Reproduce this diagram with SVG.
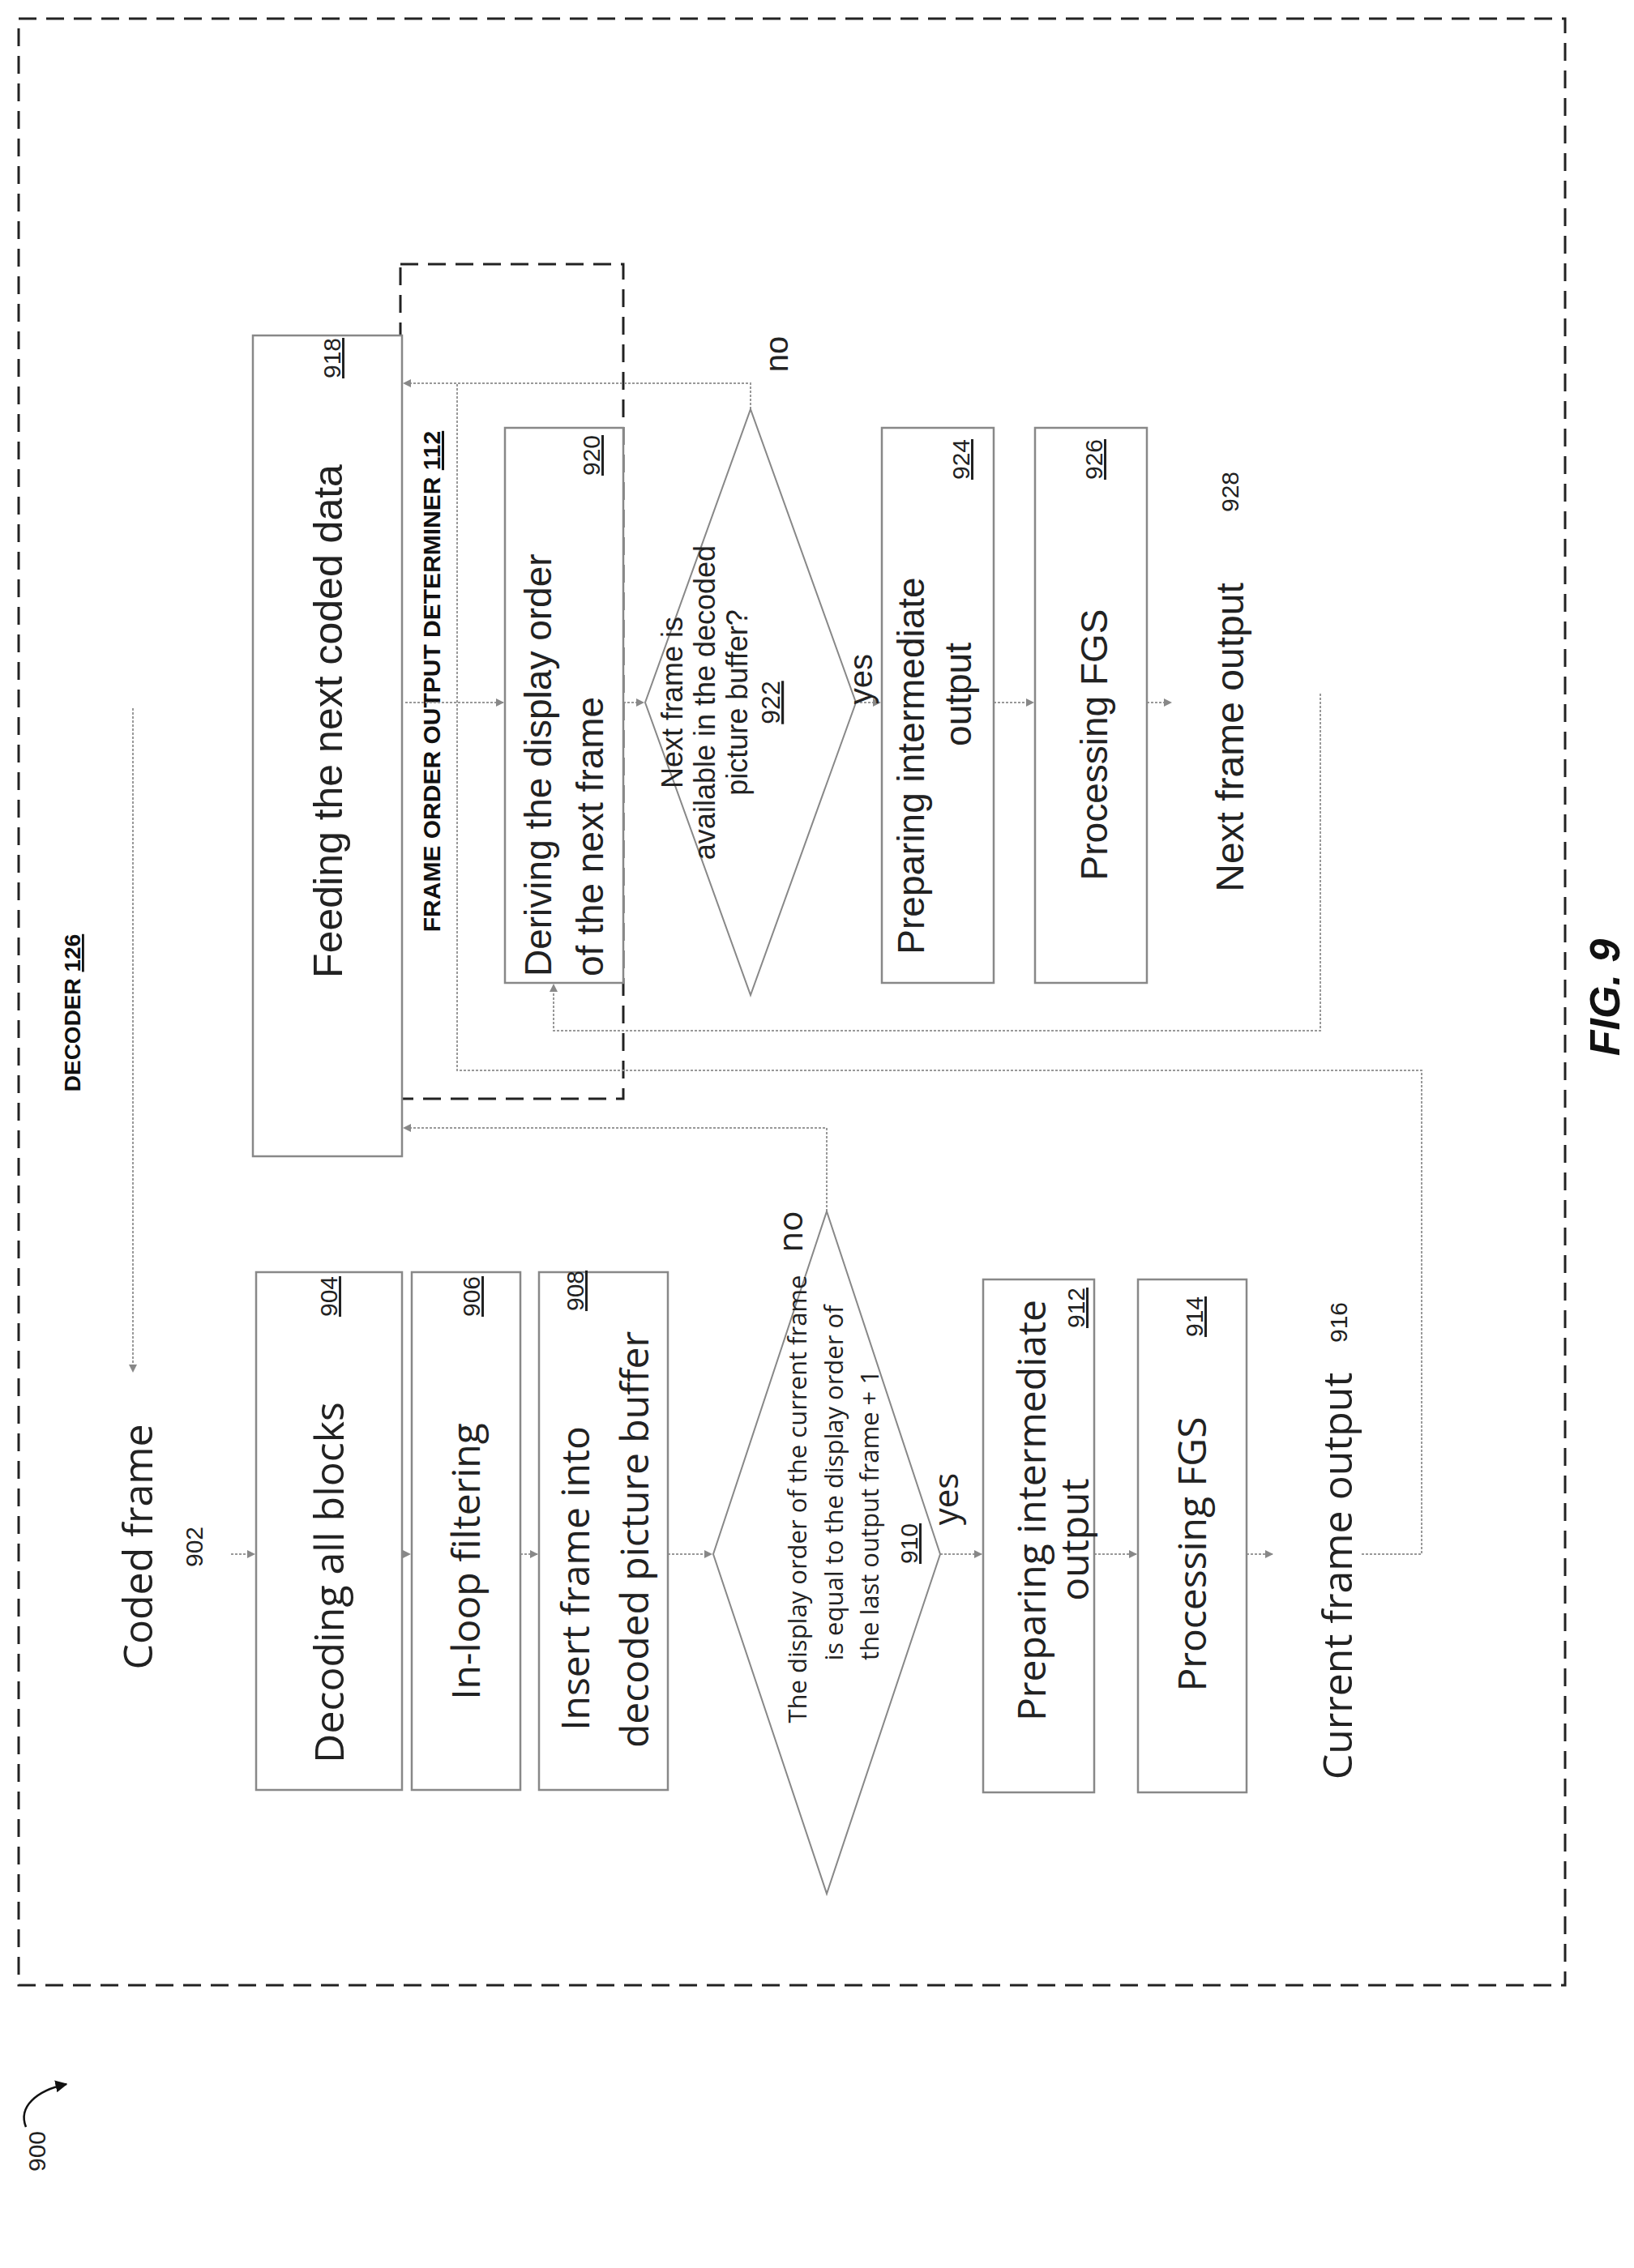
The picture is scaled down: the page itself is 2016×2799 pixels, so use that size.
<svg xmlns="http://www.w3.org/2000/svg" width="2016" height="2799" viewBox="0 0 2016 2799">
<style>
.bx{fill:#fff;stroke:#888;stroke-width:2.5}
.dm{fill:none;stroke:#888;stroke-width:2}
.dash{fill:none;stroke:#222;stroke-width:3;stroke-dasharray:22 12}
.cn{fill:none;stroke:#999;stroke-width:2;stroke-dasharray:3 2}
.t{font-family:"Open Sans","Liberation Sans",sans-serif;fill:#222}
.a{font-family:"Liberation Sans",Arial,sans-serif;fill:#222}
.b{font-family:"Liberation Sans",Arial,sans-serif;font-weight:bold;fill:#111}
</style>
<defs>
<marker id="ar" viewBox="0 0 10 10" refX="9" refY="5" markerWidth="5" markerHeight="5" orient="auto"><path d="M0,0 L10,5 L0,10 z" fill="#888"/></marker>
<marker id="ak" viewBox="0 0 10 10" refX="9" refY="5" markerWidth="6" markerHeight="6" orient="auto"><path d="M0,0 L10,5 L0,10 z" fill="#111"/></marker>
</defs>
<rect class="dash" x="23" y="23" width="1908" height="2427"/>
<g id="decoder-label"><text class="b" font-size="28" text-anchor="middle" transform="translate(99,1250) rotate(-90)">DECODER <tspan text-decoration="underline">126</tspan></text></g>
<g id="fig"><text class="b" font-size="52" font-style="italic" text-anchor="middle" transform="translate(1998,1231) rotate(-90)">FIG. 9</text></g>
<g id="n900"><text class="a" font-size="30" text-anchor="middle" transform="translate(56,2655) rotate(-90)">900</text>
<path d="M32,2625 C22,2600 45,2580 82,2572" fill="none" stroke="#111" stroke-width="2.5" marker-end="url(#ak)"/></g>
<g id="determiner"><rect class="dash" x="494" y="326" width="275" height="1030"/>
<text class="b" font-size="30" text-anchor="middle" transform="translate(543,841) rotate(-90)">FRAME ORDER OUTPUT DETERMINER <tspan text-decoration="underline">112</tspan></text></g>

<g id="connectors">
<path class="cn" d="M164,874 V1693" marker-end="url(#ar)"/>
<path class="cn" d="M285,1918 H314" marker-end="url(#ar)"/>
<path class="cn" d="M496,1918 H506" marker-end="url(#ar)"/>
<path class="cn" d="M642,1918 H663" marker-end="url(#ar)"/>
<path class="cn" d="M824,1918 H878" marker-end="url(#ar)"/>
<path class="cn" d="M1160,1918 H1211" marker-end="url(#ar)"/>
<path class="cn" d="M1350,1918 H1402" marker-end="url(#ar)"/>
<path class="cn" d="M1538,1918 H1570" marker-end="url(#ar)"/>
<path class="cn" d="M1020,1495 V1392 H498" marker-end="url(#ar)"/>
<path class="cn" d="M1680,1918 H1754 V1321 H564 V473"/>
<path class="cn" d="M926,505 V473 H498" marker-end="url(#ar)"/>
<path class="cn" d="M500,867 H621" marker-end="url(#ar)"/>
<path class="cn" d="M769,867 H794" marker-end="url(#ar)"/>
<path class="cn" d="M1056,867 H1086" marker-end="url(#ar)"/>
<path class="cn" d="M1226,867 H1275" marker-end="url(#ar)"/>
<path class="cn" d="M1415,867 H1445" marker-end="url(#ar)"/>
<path class="cn" d="M1629,856 V1272 H683 V1215" marker-end="url(#ar)"/>
</g>

<g id="n902"><text class="t" font-size="50" text-anchor="middle" transform="translate(188,1909) rotate(-90)">Coded frame</text>
<text class="a" font-size="30" text-anchor="middle" transform="translate(250,1909) rotate(-90)">902</text></g>
<g id="n904"><rect class="bx" x="316" y="1570" width="180" height="639"/>
<text class="t" font-size="50" text-anchor="middle" transform="translate(424,1953) rotate(-90)">Decoding all blocks</text>
<text class="a" font-size="30" text-anchor="middle" text-decoration="underline" transform="translate(416,1600) rotate(-90)">904</text></g>
<g id="n906"><rect class="bx" x="508" y="1570" width="134" height="639"/>
<text class="t" font-size="48" text-anchor="middle" transform="translate(592,1927) rotate(-90)">In-loop filtering</text>
<text class="a" font-size="30" text-anchor="middle" text-decoration="underline" transform="translate(592,1600) rotate(-90)">906</text></g>
<g id="n908"><rect class="bx" x="665" y="1570" width="159" height="639"/>
<text class="t" font-size="48" text-anchor="middle" transform="translate(727,1948) rotate(-90)">Insert frame into</text>
<text class="t" font-size="48" text-anchor="middle" transform="translate(800,1900) rotate(-90)">decoded picture buffer</text>
<text class="a" font-size="30" text-anchor="middle" text-decoration="underline" transform="translate(720,1593) rotate(-90)">908</text></g>
<g id="n910"><polygon class="dm" points="1020,1495 1160,1918 1020,2337 880,1918"/>
<text class="t" font-size="31" text-anchor="middle" transform="translate(995,1850) rotate(-90)">The display order of the current frame</text>
<text class="t" font-size="31" text-anchor="middle" transform="translate(1040,1830) rotate(-90)">is equal to the display order of</text>
<text class="t" font-size="31" text-anchor="middle" transform="translate(1084,1870) rotate(-90)">the last output frame + 1</text>
<text class="a" font-size="30" text-anchor="middle" text-decoration="underline" transform="translate(1132,1905) rotate(-90)">910</text>
<text class="t" font-size="42" text-anchor="middle" transform="translate(1182,1850) rotate(-90)">yes</text>
<text class="t" font-size="42" text-anchor="middle" transform="translate(990,1520) rotate(-90)">no</text></g>
<g id="n912"><rect class="bx" x="1213" y="1579" width="137" height="633"/>
<text class="t" font-size="48" text-anchor="middle" transform="translate(1290,1864) rotate(-90)">Preparing intermediate</text>
<text class="t" font-size="48" text-anchor="middle" transform="translate(1343,1900) rotate(-90)">output</text>
<text class="a" font-size="30" text-anchor="middle" text-decoration="underline" transform="translate(1338,1614) rotate(-90)">912</text></g>
<g id="n914"><rect class="bx" x="1404" y="1579" width="134" height="633"/>
<text class="t" font-size="48" text-anchor="middle" transform="translate(1488,1918) rotate(-90)">Processing FGS</text>
<text class="a" font-size="30" text-anchor="middle" text-decoration="underline" transform="translate(1484,1625) rotate(-90)">914</text></g>
<g id="n916"><text class="t" font-size="50" text-anchor="middle" transform="translate(1668,1945) rotate(-90)">Current frame output</text>
<text class="a" font-size="30" text-anchor="middle" transform="translate(1662,1632) rotate(-90)">916</text></g>

<g id="n918"><rect class="bx" x="312" y="414" width="184" height="1013"/>
<text class="a" font-size="50" text-anchor="middle" transform="translate(422,890) rotate(-90)">Feeding the next coded data</text>
<text class="a" font-size="30" text-anchor="middle" text-decoration="underline" transform="translate(420,442) rotate(-90)">918</text></g>
<g id="n920"><rect class="bx" x="623" y="528" width="146" height="685"/>
<text class="a" font-size="46" transform="translate(680,1205) rotate(-90)">Deriving the display order</text>
<text class="a" font-size="46" transform="translate(744,1205) rotate(-90)">of the next frame</text>
<text class="a" font-size="30" text-anchor="middle" text-decoration="underline" transform="translate(740,562) rotate(-90)">920</text></g>
<g id="n922"><polygon class="dm" points="926,505 1056,867 926,1228 796,867"/>
<text class="a" font-size="36" text-anchor="middle" transform="translate(842,867) rotate(-90)">Next frame is</text>
<text class="a" font-size="36" text-anchor="middle" transform="translate(882,867) rotate(-90)">available in the decoded</text>
<text class="a" font-size="36" text-anchor="middle" transform="translate(922,867) rotate(-90)">picture buffer?</text>
<text class="a" font-size="32" text-anchor="middle" text-decoration="underline" transform="translate(962,867) rotate(-90)">922</text>
<text class="a" font-size="40" text-anchor="middle" transform="translate(1076,838) rotate(-90)">yes</text>
<text class="a" font-size="40" text-anchor="middle" transform="translate(972,437) rotate(-90)">no</text></g>
<g id="n924"><rect class="bx" x="1088" y="528" width="138" height="685"/>
<text class="a" font-size="46" text-anchor="middle" transform="translate(1140,945) rotate(-90)">Preparing intermediate</text>
<text class="a" font-size="46" text-anchor="middle" transform="translate(1198,857) rotate(-90)">output</text>
<text class="a" font-size="30" text-anchor="middle" text-decoration="underline" transform="translate(1196,567) rotate(-90)">924</text></g>
<g id="n926"><rect class="bx" x="1277" y="528" width="138" height="685"/>
<text class="a" font-size="46" text-anchor="middle" transform="translate(1366,919) rotate(-90)">Processing FGS</text>
<text class="a" font-size="30" text-anchor="middle" text-decoration="underline" transform="translate(1360,567) rotate(-90)">926</text></g>
<g id="n928"><text class="a" font-size="48" text-anchor="middle" transform="translate(1534,910) rotate(-90)">Next frame output</text>
<text class="a" font-size="30" text-anchor="middle" transform="translate(1528,607) rotate(-90)">928</text></g>
</svg>
